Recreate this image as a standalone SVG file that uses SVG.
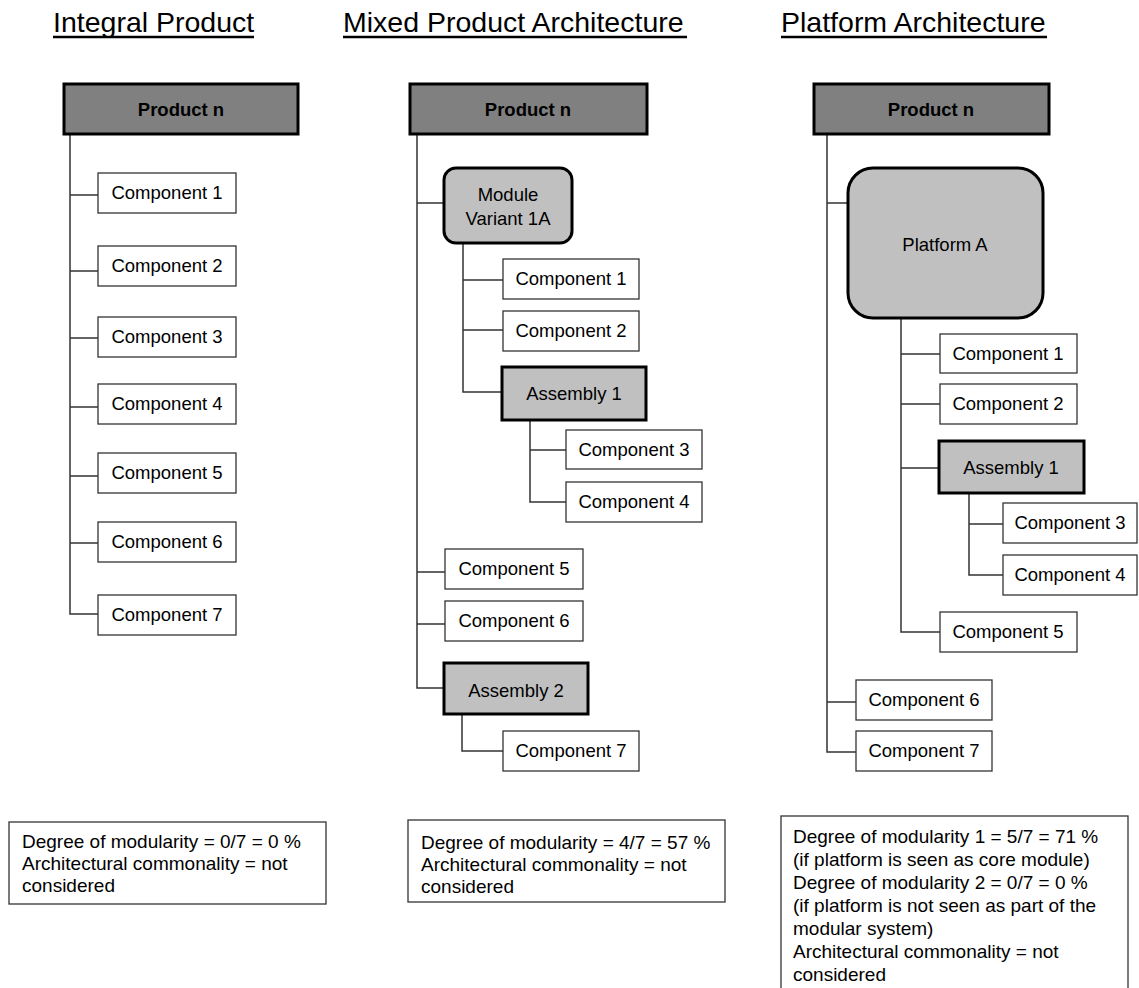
<svg xmlns="http://www.w3.org/2000/svg" width="1139" height="988" viewBox="0 0 1139 988">
  <style>
    text { font-family: "Liberation Sans", Arial, sans-serif; fill: #000; }
    .title { font-size: 28.5px; }
    .uline { stroke: #000; stroke-width: 2.5; }
    .label { font-size: 18.5px; text-anchor: middle; }
    .bold { font-weight: bold; }
    .note { font-size: 19px; }
    .comp { fill: #fff; stroke: #333; stroke-width: 1.3; }
    .prod { fill: #808080; stroke: #000; stroke-width: 3; }
    .sub { fill: #c0c0c0; stroke: #000; stroke-width: 3; }
    .notebox { fill: #fff; stroke: #333; stroke-width: 1.3; }
    .wire { fill: none; stroke: #333; stroke-width: 1.5; }
  </style>

  <!-- column headings -->
  <g id="headings">
    <text class="title" x="53" y="32">Integral Product</text>
    <line class="uline" x1="53" y1="37" x2="254" y2="37"/>
    <text class="title" x="343" y="32">Mixed Product Architecture</text>
    <line class="uline" x1="343" y1="37" x2="687" y2="37"/>
    <text class="title" x="781" y="32">Platform Architecture</text>
    <line class="uline" x1="781" y1="37" x2="1047" y2="37"/>
  </g>

  <!-- connectors -->
  <g id="connectors" class="wire">
    <!-- integral product -->
    <path d="M70 134V614H98M70 195H98M70 271H98M70 338H98M70 407H98M70 476H98M70 543H98"/>
    <!-- mixed product -->
    <path d="M417 134V688H444M417 203H444M417 572H445M417 624H445"/>
    <path d="M463 243V392H502M463 280H503M463 330H503"/>
    <path d="M530 420V502H566M530 450H566"/>
    <path d="M462 714V751H503"/>
    <!-- platform -->
    <path d="M827 134V752H856M827 203H848M827 702H856"/>
    <path d="M901 318V632H940M901 354H940M901 404H940M901 468H939"/>
    <path d="M969 493V575H1003M969 524H1003"/>
  </g>

  <!-- integral product -->
  <g id="int-product"><rect class="prod" x="64" y="84" width="234" height="50"/><text class="label bold" x="181" y="116">Product n</text></g>
  <g id="int-c1"><rect class="comp" x="98" y="173" width="138" height="40"/><text class="label" x="167" y="199">Component 1</text></g>
  <g id="int-c2"><rect class="comp" x="98" y="246" width="138" height="40"/><text class="label" x="167" y="272">Component 2</text></g>
  <g id="int-c3"><rect class="comp" x="98" y="317" width="138" height="40"/><text class="label" x="167" y="343">Component 3</text></g>
  <g id="int-c4"><rect class="comp" x="98" y="384" width="138" height="40"/><text class="label" x="167" y="410">Component 4</text></g>
  <g id="int-c5"><rect class="comp" x="98" y="453" width="138" height="40"/><text class="label" x="167" y="479">Component 5</text></g>
  <g id="int-c6"><rect class="comp" x="98" y="522" width="138" height="40"/><text class="label" x="167" y="548">Component 6</text></g>
  <g id="int-c7"><rect class="comp" x="98" y="595" width="138" height="40"/><text class="label" x="167" y="621">Component 7</text></g>
  <g id="int-note">
    <rect class="notebox" x="9" y="822" width="317" height="82"/>
    <text class="note" x="22" y="848">Degree of modularity = 0/7 = 0 %</text>
    <text class="note" x="22" y="870">Architectural commonality = not</text>
    <text class="note" x="22" y="892">considered</text>
  </g>

  <!-- mixed product architecture -->
  <g id="mix-product"><rect class="prod" x="410" y="84" width="237" height="50"/><text class="label bold" x="528" y="116">Product n</text></g>
  <g id="mix-module"><rect class="sub" x="444" y="168" width="128" height="75" rx="12"/><text class="label" x="508" y="201">Module</text><text class="label" x="508" y="225">Variant 1A</text></g>
  <g id="mix-c1"><rect class="comp" x="503" y="259" width="136" height="40"/><text class="label" x="571" y="285">Component 1</text></g>
  <g id="mix-c2"><rect class="comp" x="503" y="311" width="136" height="40"/><text class="label" x="571" y="337">Component 2</text></g>
  <g id="mix-asm1"><rect class="sub" x="502" y="367" width="144" height="53"/><text class="label" x="574" y="400">Assembly 1</text></g>
  <g id="mix-c3"><rect class="comp" x="566" y="430" width="136" height="39"/><text class="label" x="634" y="456">Component 3</text></g>
  <g id="mix-c4"><rect class="comp" x="566" y="482" width="136" height="40"/><text class="label" x="634" y="508">Component 4</text></g>
  <g id="mix-c5"><rect class="comp" x="445" y="549" width="138" height="40"/><text class="label" x="514" y="575">Component 5</text></g>
  <g id="mix-c6"><rect class="comp" x="445" y="601" width="138" height="40"/><text class="label" x="514" y="627">Component 6</text></g>
  <g id="mix-asm2"><rect class="sub" x="444" y="663" width="144" height="51"/><text class="label" x="516" y="697">Assembly 2</text></g>
  <g id="mix-c7"><rect class="comp" x="503" y="731" width="136" height="40"/><text class="label" x="571" y="757">Component 7</text></g>
  <g id="mix-note">
    <rect class="notebox" x="408" y="820" width="317" height="82"/>
    <text class="note" x="421" y="849">Degree of modularity = 4/7 = 57 %</text>
    <text class="note" x="421" y="871">Architectural commonality = not</text>
    <text class="note" x="421" y="893">considered</text>
  </g>

  <!-- platform architecture -->
  <g id="plt-product"><rect class="prod" x="814" y="84" width="235" height="50"/><text class="label bold" x="931" y="116">Product n</text></g>
  <g id="plt-platform"><rect class="sub" x="848" y="168" width="195" height="150" rx="25"/><text class="label" x="945" y="251">Platform A</text></g>
  <g id="plt-c1"><rect class="comp" x="940" y="334" width="137" height="39"/><text class="label" x="1008" y="360">Component 1</text></g>
  <g id="plt-c2"><rect class="comp" x="940" y="384" width="137" height="40"/><text class="label" x="1008" y="410">Component 2</text></g>
  <g id="plt-asm1"><rect class="sub" x="939" y="441" width="145" height="52"/><text class="label" x="1011" y="474">Assembly 1</text></g>
  <g id="plt-c3"><rect class="comp" x="1003" y="503" width="134" height="40"/><text class="label" x="1070" y="529">Component 3</text></g>
  <g id="plt-c4"><rect class="comp" x="1003" y="555" width="134" height="40"/><text class="label" x="1070" y="581">Component 4</text></g>
  <g id="plt-c5"><rect class="comp" x="940" y="612" width="137" height="40"/><text class="label" x="1008" y="638">Component 5</text></g>
  <g id="plt-c6"><rect class="comp" x="856" y="680" width="136" height="40"/><text class="label" x="924" y="706">Component 6</text></g>
  <g id="plt-c7"><rect class="comp" x="856" y="731" width="136" height="40"/><text class="label" x="924" y="757">Component 7</text></g>
  <g id="plt-note">
    <rect class="notebox" x="781" y="816" width="347" height="180"/>
    <text class="note" x="793" y="843">Degree of modularity 1 = 5/7 = 71 %</text>
    <text class="note" x="793" y="866">(if platform is seen as core module)</text>
    <text class="note" x="793" y="889">Degree of modularity 2 = 0/7 = 0 %</text>
    <text class="note" x="793" y="912">(if platform is not seen as part of the</text>
    <text class="note" x="793" y="935">modular system)</text>
    <text class="note" x="793" y="958">Architectural commonality = not</text>
    <text class="note" x="793" y="981">considered</text>
  </g>
</svg>
